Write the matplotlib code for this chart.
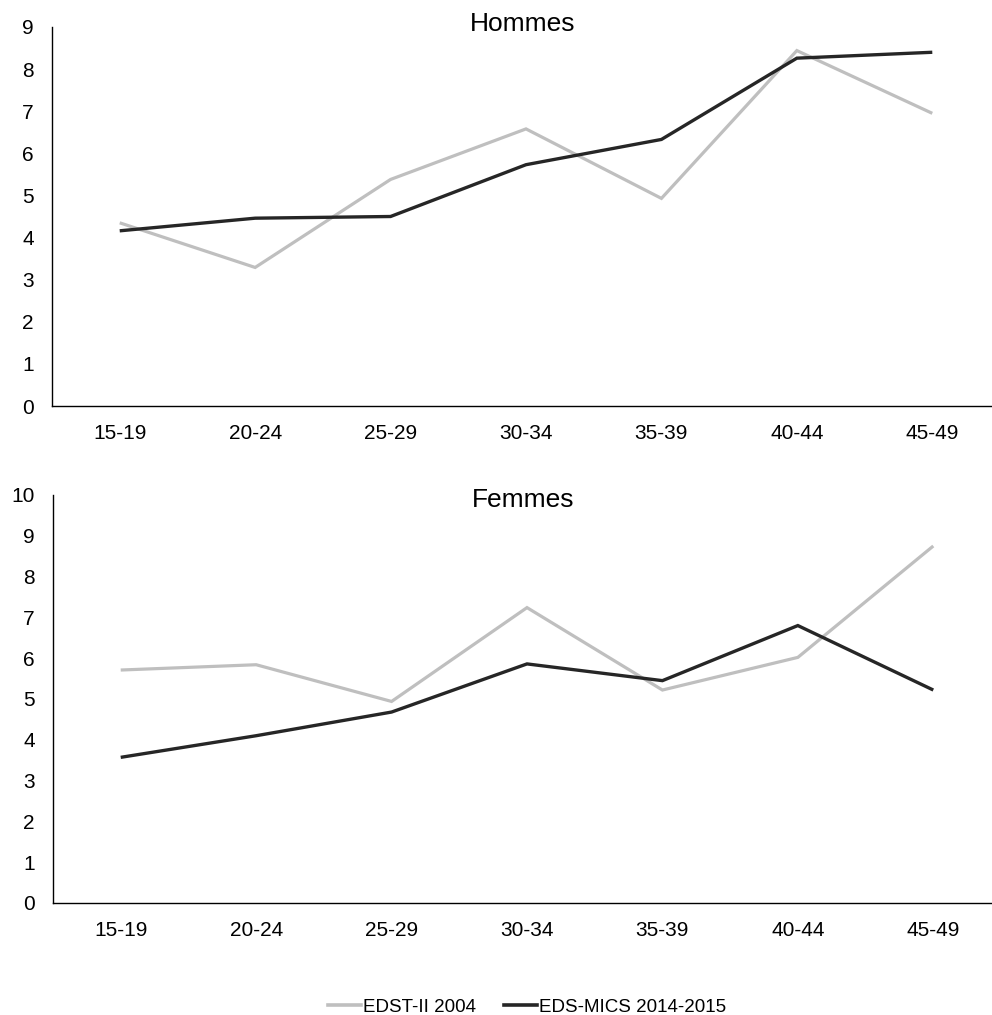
import matplotlib
matplotlib.use("Agg")
import matplotlib.pyplot as plt
from matplotlib.lines import Line2D

plt.rcParams['font.family'] = ['Liberation Sans', 'DejaVu Sans']

categories = ["15-19", "20-24", "25-29", "30-34", "35-39", "40-44", "45-49"]
series_names = ["EDST-II 2004", "EDS-MICS 2014-2015"]

hommes_2004 = [4.35, 3.29, 5.38, 6.58, 4.93, 8.44, 6.95]
hommes_2014 = [4.16, 4.46, 4.50, 5.73, 6.33, 8.26, 8.40]

femmes_2004 = [5.71, 5.84, 4.94, 7.24, 5.22, 6.02, 8.75]
femmes_2014 = [3.57, 4.10, 4.68, 5.86, 5.45, 6.80, 5.22]

panel_titles = ["Hommes", "Femmes"]
y_max = [9, 10]

gray = "#BFBFBF"
dark = "#262626"

fig = plt.figure(figsize=(9.92, 10.15), dpi=100)
W, H = 992, 1015

def add_ax(left, top, right, bottom):
    return fig.add_axes([left / W, 1 - bottom / H, (right - left) / W, (bottom - top) / H])

ax1 = add_ax(52, 27, 1000, 406)
ax2 = add_ax(53, 495, 1001, 903)

panels = [(ax1, hommes_2004, hommes_2014), (ax2, femmes_2004, femmes_2014)]
title_y = [1.008, 0.988]

for i, (ax, s1, s2) in enumerate(panels):
    x = list(range(len(categories)))
    ax.plot(x, s1, color=gray, lw=2.3, solid_joinstyle='miter', solid_capstyle='butt')
    ax.plot(x, s2, color=dark, lw=2.4, solid_joinstyle='miter', solid_capstyle='butt')
    ax.set_xlim(-0.5, len(categories) - 0.5)
    ax.set_ylim(0, y_max[i])
    ax.set_yticks(range(0, y_max[i] + 1))
    ax.set_xticks(x)
    ax.set_xticklabels(categories)
    ax.tick_params(axis='both', length=0, labelsize=15, colors='black')
    ax.tick_params(axis='x', pad=13)
    ax.tick_params(axis='y', pad=13)
    for sp in ['top', 'right']:
        ax.spines[sp].set_visible(False)
    for sp in ['left', 'bottom']:
        ax.spines[sp].set_linewidth(1.0)
        ax.spines[sp].set_color('black')
    ax.text(0.496, title_y[i], panel_titles[i], transform=ax.transAxes,
            ha='center', va='center', fontsize=19)

handles = [Line2D([], [], color=gray, lw=2.6), Line2D([], [], color=dark, lw=2.6)]
fig.legend(handles, series_names, loc='center', bbox_to_anchor=(527 / W, 1 - 1007 / H),
           ncol=2, frameon=False, fontsize=13.5, handlelength=1.75,
           handletextpad=0.1, columnspacing=1.5, borderaxespad=0, borderpad=0)

fig.savefig("out.png", dpi=100)
